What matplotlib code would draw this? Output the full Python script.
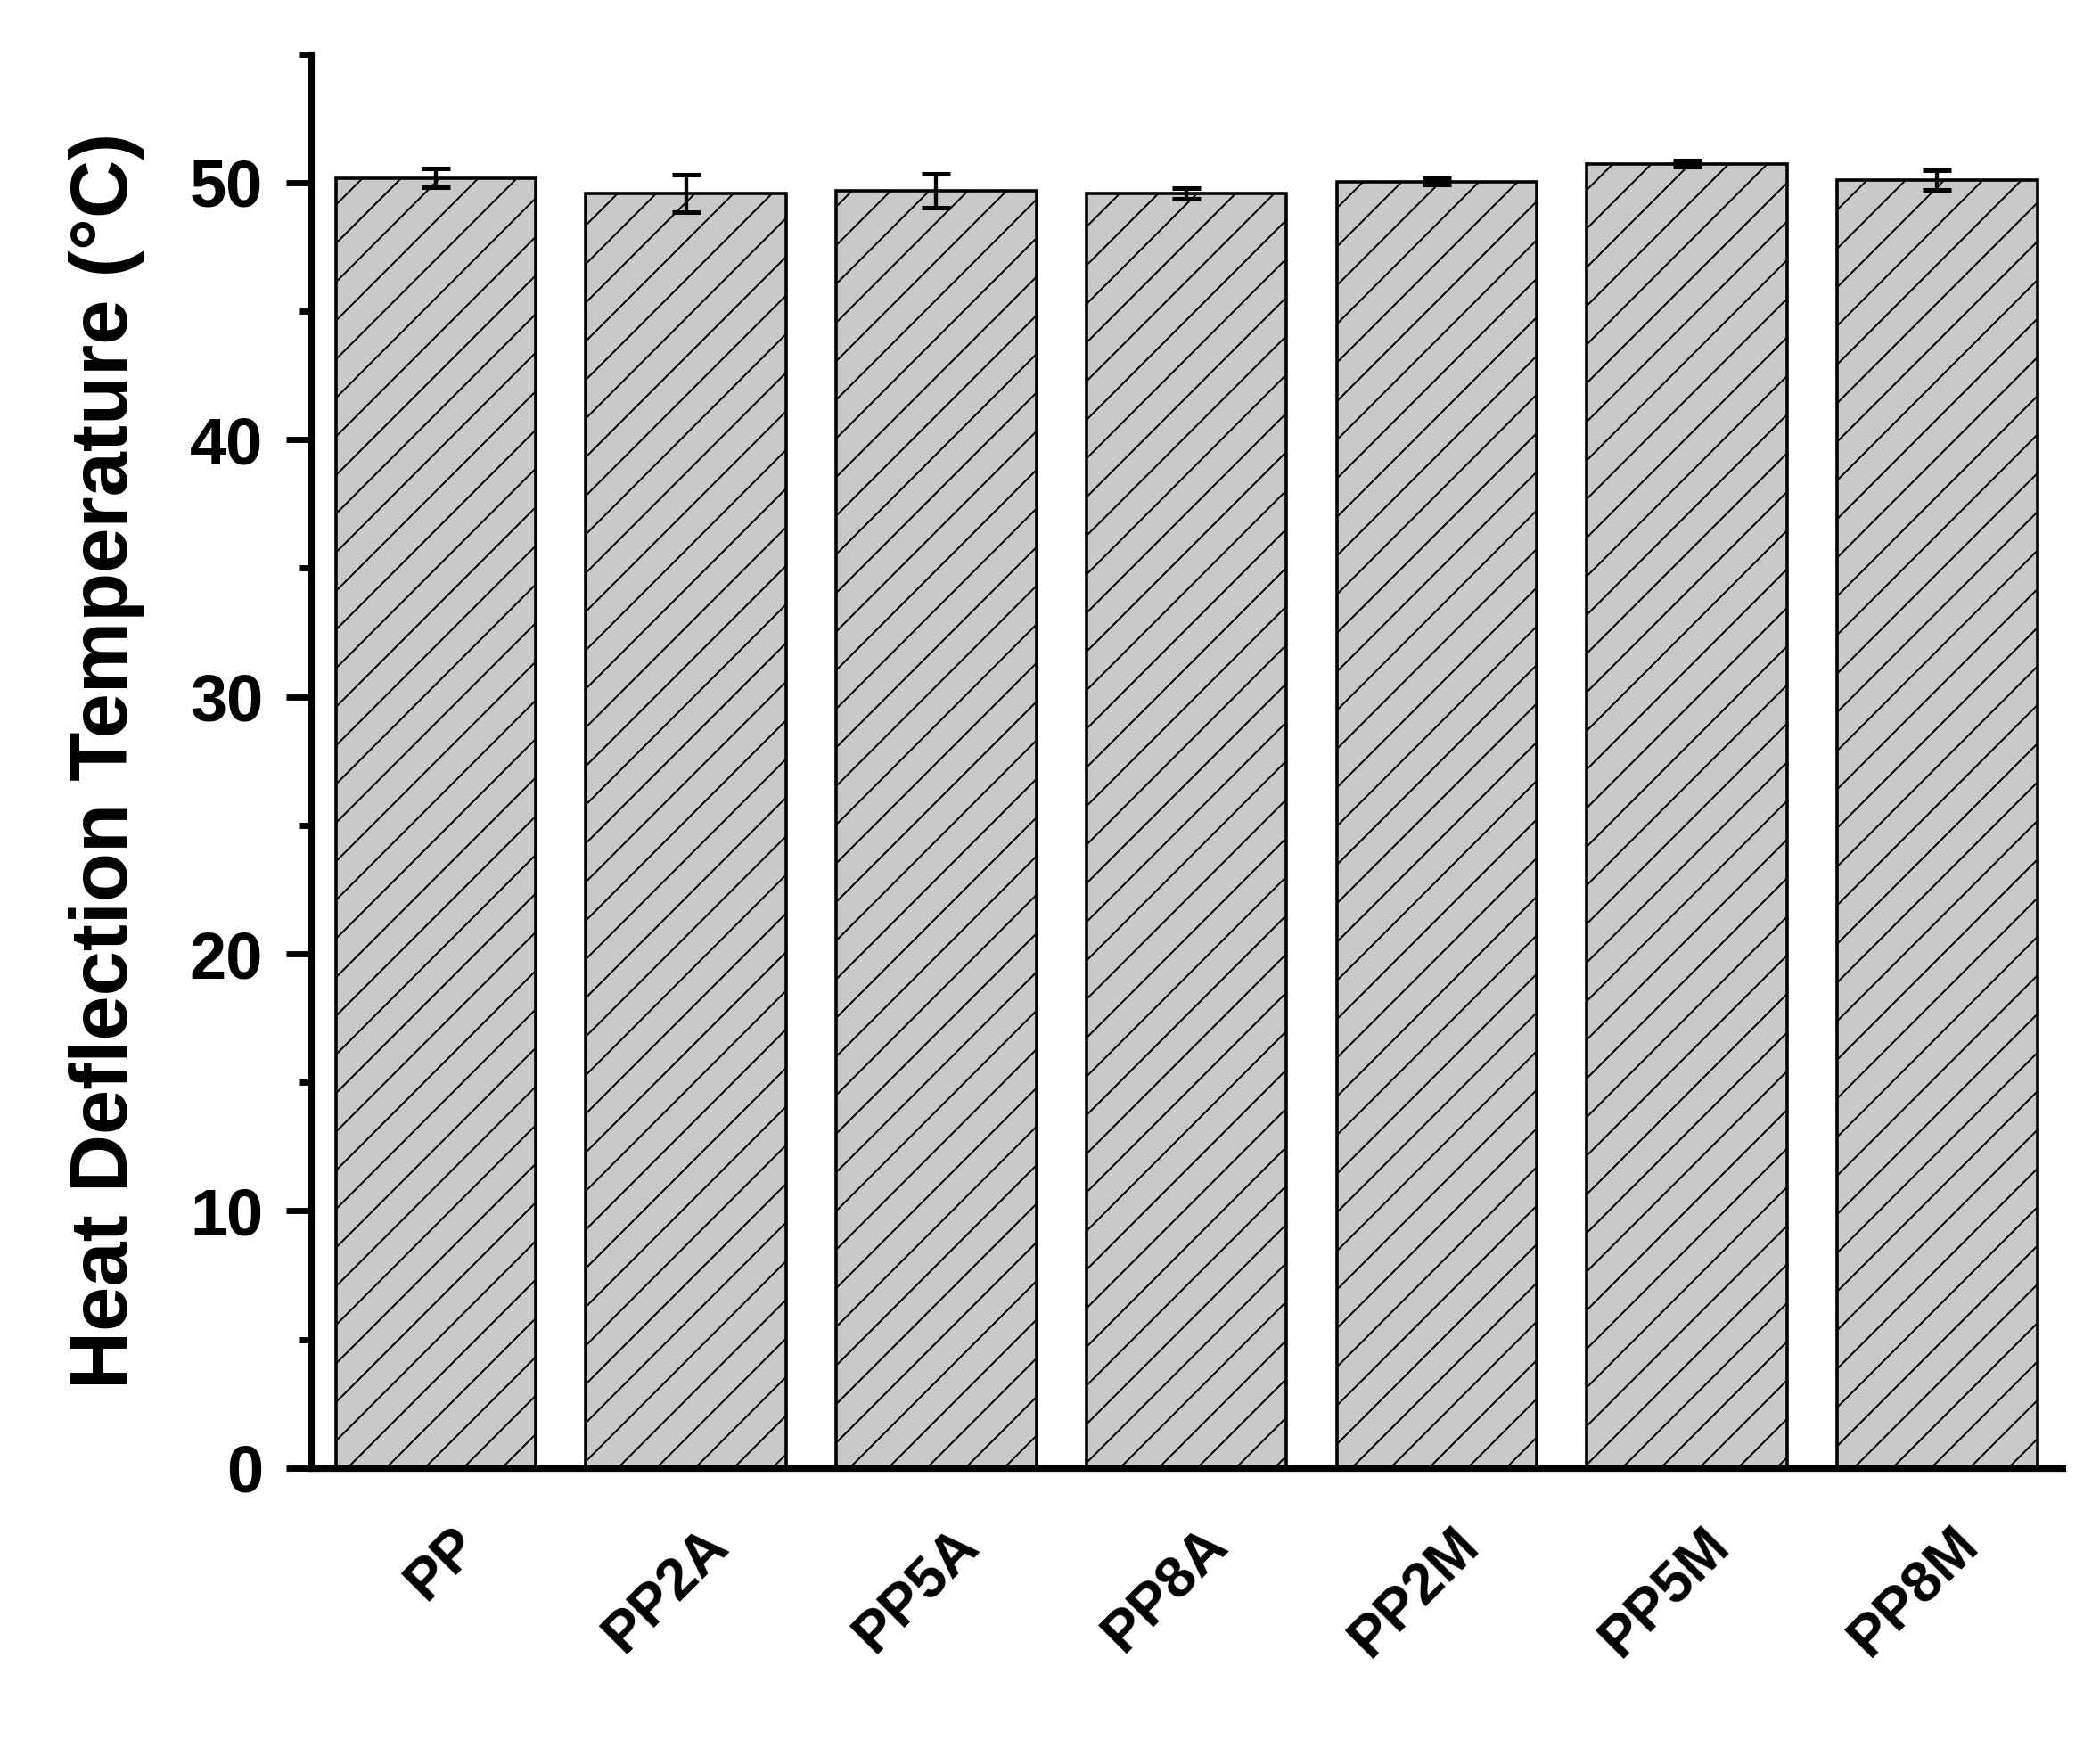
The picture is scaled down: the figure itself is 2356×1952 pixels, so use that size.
import matplotlib
matplotlib.use("Agg")
import matplotlib.pyplot as plt
from matplotlib.ticker import MultipleLocator
import matplotlib.transforms as mtransforms
import numpy as np

categories = ["PP", "PP2A", "PP5A", "PP8A", "PP2M", "PP5M", "PP8M"]
hdt_values = [50.17, 49.57, 49.69, 49.57, 50.03, 50.73, 50.10]
hdt_errors = [0.36, 0.74, 0.66, 0.22, 0.12, 0.12, 0.38]
y_ticks = [0, 10, 20, 30, 40, 50]

DPI = 260
plt.rcParams['font.family'] = ['Liberation Sans', 'DejaVu Sans']
plt.rcParams['font.weight'] = 'bold'
plt.rcParams['hatch.linewidth'] = 0.55

fig = plt.figure(figsize=(2356 / DPI, 1952 / DPI), dpi=DPI)
fig.patch.set_facecolor('white')
ax = fig.add_axes([0.148, 0.1563, 0.834, 0.8127])

x = np.arange(len(categories))
ax.bar(x, hdt_values, width=0.8, color='#c9c9c9', edgecolor='black',
       linewidth=1.0, hatch='//', zorder=2)
ax.errorbar(x, hdt_values, yerr=hdt_errors, fmt='none', ecolor='black',
            elinewidth=1.2, capsize=4.5, capthick=1.4, zorder=3)

ax.set_xlim(-0.5, 6.5)
ax.set_ylim(0, 55)
ax.set_yticks(y_ticks)
ax.yaxis.set_minor_locator(MultipleLocator(5))
ax.set_xticks(x)
ax.tick_params(axis='x', which='both', length=0, labelbottom=False)

# rotated category labels below the axis
base = mtransforms.blended_transform_factory(ax.transData, ax.transAxes)
offset = mtransforms.ScaledTranslation(10.4 / 72, -21.3 / 72, fig.dpi_scale_trans)
for xi, name in zip(x, categories):
    ax.text(xi, 0, name, transform=base + offset, rotation=45,
            rotation_mode='anchor', ha='right', va='center',
            fontsize=18, fontweight='bold', clip_on=False)

for lab in ax.get_yticklabels():
    lab.set_fontsize(20.5)
    lab.set_fontweight('bold')

ax.tick_params(axis='y', which='major', direction='out', length=7.8, width=1.9, pad=7)
ax.tick_params(axis='y', which='minor', direction='out', length=3.5, width=1.9)

for side in ['top', 'right']:
    ax.spines[side].set_visible(False)
for side in ['left', 'bottom']:
    ax.spines[side].set_linewidth(2.0)

ax.set_ylabel("Heat Deflection Temperature (°C)", fontsize=25, fontweight='bold', labelpad=14)

fig.savefig("out.png", dpi=DPI, facecolor='white')
